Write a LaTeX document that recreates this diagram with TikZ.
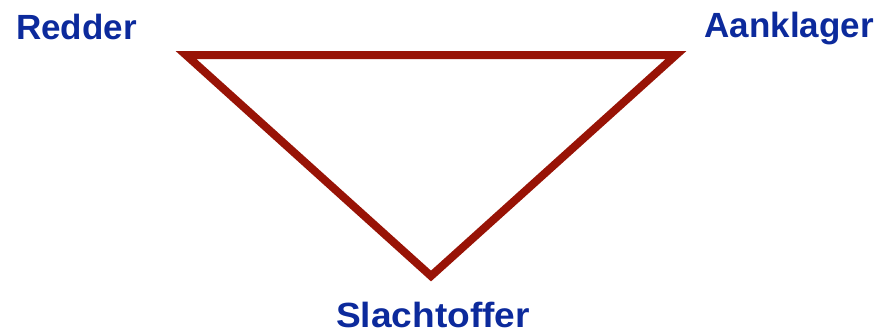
\documentclass[tikz,border=0pt]{standalone}
\usepackage{fontspec}
\setmainfont{Liberation Sans}
\definecolor{edgered}{HTML}{981306}
\definecolor{labelblue}{HTML}{0C2A9C}
\begin{document}
\begin{tikzpicture}[x=1pt,y=1pt,
  lbl/.style={inner sep=0pt, text=labelblue, font=\fontsize{35}{40}\selectfont\bfseries},
  edge/.style={draw=edgered, line width=8pt, line join=miter}]
\useasboundingbox (0,0) rectangle (881,333);
\coordinate (r) at (186,278);
\coordinate (a) at (676,278);
\coordinate (s) at (431,57);
\draw[edge] (r) -- (a) -- (s) -- cycle;
\node[lbl, anchor=base west] (redder) at (16,294) {Redder};
\node[lbl, anchor=base east] (aanklager) at (874,296) {Aanklager};
\node[lbl, anchor=base, transform shape, xscale=1.06] (slachtoffer) at (433,6) {Slachtoffer};
\end{tikzpicture}
\end{document}
